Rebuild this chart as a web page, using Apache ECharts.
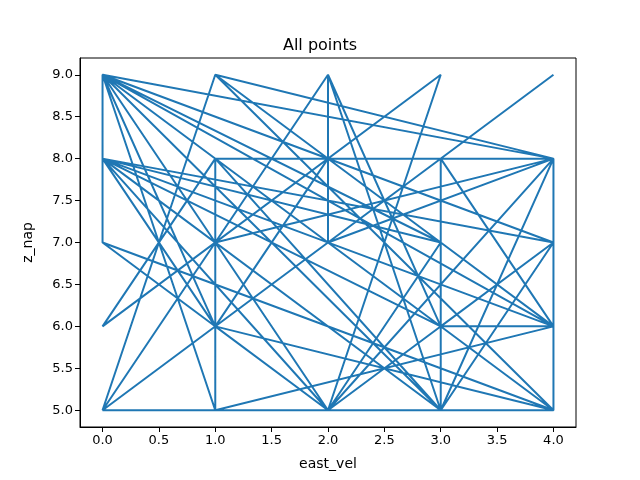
<!DOCTYPE html>
<html><head><meta charset="utf-8">
<script src="https://cdn.jsdelivr.net/npm/echarts@6/dist/echarts.min.js"></script>
<style>html,body{margin:0;padding:0;background:#fff}#c{width:640px;height:480px}</style>
</head><body><div id="c"></div>
<script>
// Path of points in plotting order (east_vel, z_nap)
const eastVel = [4,0,4,4,0,0,0,4,0,1,1,4,1,0,2,2,4,3,2,3,4,0,3,3,4,0,4,0,2,4,1,0,3,2,3,0,1,3,4,3,0,1,2,0,0,3,4,1,0,3,1,4,0,1,4,2,3,0,2,4,0,1,2];
const zNap    = [9,5,5,8,9,8,7,5,9,5,8,8,9,5,9,7,8,5,9,6,6,9,5,8,6,8,7,9,5,8,7,8,5,5,9,6,8,5,7,6,8,6,5,7,8,7,6,5,9,7,9,5,9,6,5,5,7,8,5,7,9,6,8];
const xTicks = [0,0.5,1,1.5,2,2.5,3,3.5,4];
const yTicks = [5,5.5,6,6.5,7,7.5,8,8.5,9];
const points = eastVel.map((x,i)=>[x,zNap[i]]);
const chart = echarts.init(document.getElementById('c'));
const font = 'DejaVu Sans';
chart.setOption({
  animation:false,
  title:{text:'All points',left:'center',top:33,textStyle:{fontFamily:font,fontSize:16,fontWeight:'normal',color:'#000'}},
  grid:{left:80,right:64,top:58,bottom:53,show:true,borderColor:'#000',borderWidth:1,backgroundColor:'#fff'},
  xAxis:{type:'value',min:-0.2,max:4.2,name:'east_vel',nameLocation:'middle',nameGap:30,
    nameTextStyle:{fontFamily:font,fontSize:14,color:'#000'},
    axisLine:{show:true,onZero:false,lineStyle:{color:'#000',width:1}},
    axisTick:{show:true,length:5,lineStyle:{color:'#000'},customValues:xTicks},
    axisLabel:{fontFamily:font,fontSize:13,color:'#000',margin:7,customValues:xTicks,formatter:v=>v.toFixed(1)},
    splitLine:{show:false}},
  yAxis:{type:'value',min:4.8,max:9.2,name:'z_nap',nameLocation:'middle',nameGap:45,
    nameTextStyle:{fontFamily:font,fontSize:14,color:'#000'},
    axisLine:{show:true,onZero:false,lineStyle:{color:'#000',width:1}},
    axisTick:{show:true,length:5,lineStyle:{color:'#000'},customValues:yTicks},
    axisLabel:{fontFamily:font,fontSize:13,color:'#000',margin:7,customValues:yTicks,formatter:v=>v.toFixed(1)},
    splitLine:{show:false}},
  series:[{type:'line',data:points,showSymbol:false,symbol:'none',lineStyle:{color:'#1f77b4',width:2},clip:false}]
});
</script></body></html>
